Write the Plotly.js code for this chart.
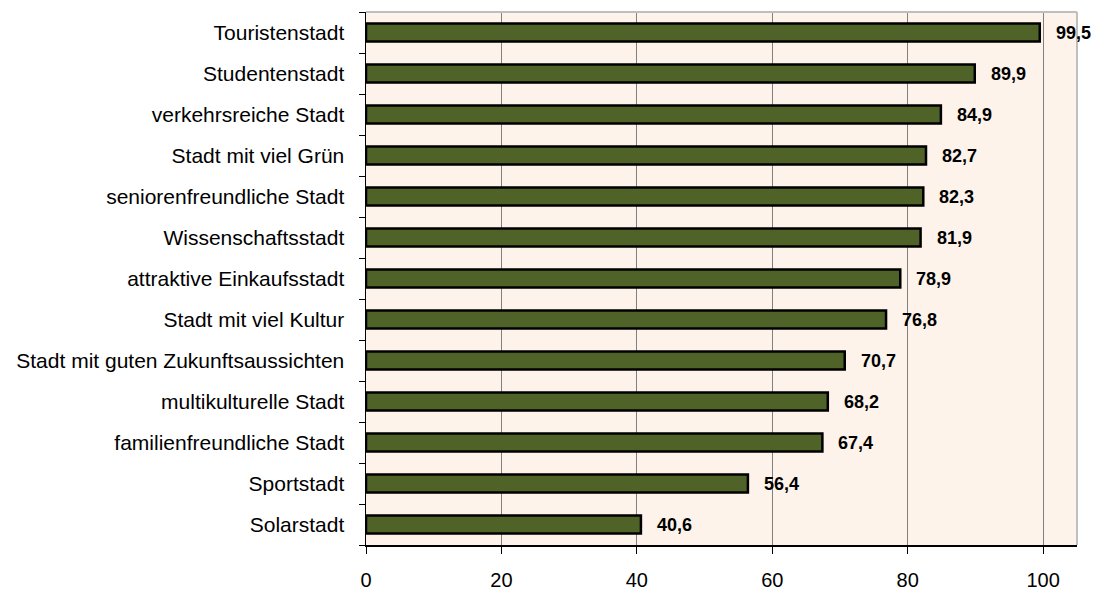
<!DOCTYPE html>
<html>
<head>
<meta charset="utf-8">
<script src="https://cdn.plot.ly/plotly-3.0.1.min.js"></script>
<style>html,body{margin:0;padding:0;background:#fff;}#chart{width:1096px;height:592px;}</style>
</head>
<body>
<div id="chart"></div>
<script>
const categories = [
  "Touristenstadt",
  "Studentenstadt",
  "verkehrsreiche Stadt",
  "Stadt mit viel Grün",
  "seniorenfreundliche Stadt",
  "Wissenschaftsstadt",
  "attraktive Einkaufsstadt",
  "Stadt mit viel Kultur",
  "Stadt mit guten Zukunftsaussichten",
  "multikulturelle Stadt",
  "familienfreundliche Stadt",
  "Sportstadt",
  "Solarstadt"
];
const values = [99.5, 89.9, 84.9, 82.7, 82.3, 81.9, 78.9, 76.8, 70.7, 68.2, 67.4, 56.4, 40.6];
const xTicks = [0, 20, 40, 60, 80, 100];

const fmt = v => v.toFixed(1).replace('.', ',');

const trace = {
  type: 'bar',
  orientation: 'h',
  x: values,
  y: categories,
  marker: { color: '#4F6228', line: { color: '#000000', width: 2.5 } },
  hoverinfo: 'none'
};

const annotations = values.map((v, i) => ({
  x: v, y: categories[i], xref: 'x', yref: 'y',
  text: '<b>' + fmt(v) + '</b>',
  showarrow: false, xanchor: 'left', yanchor: 'middle',
  xshift: 14,
  font: { family: 'Liberation Sans, Arial, sans-serif', size: 18, color: '#000' }
}));

const layout = {
  width: 1096, height: 592,
  margin: { l: 366, r: 19, t: 12, b: 47 },
  paper_bgcolor: '#ffffff',
  plot_bgcolor: '#FDF3EA',
  showlegend: false,
  bargap: 0.56,
  font: { family: 'Liberation Sans, Arial, sans-serif', size: 20, color: '#000' },
  xaxis: {
    range: [0, 105],
    tickvals: xTicks,
    ticktext: xTicks.map(String),
    showgrid: true, gridcolor: '#808080', gridwidth: 1,
    zeroline: false,
    showline: true, linecolor: '#000', linewidth: 1.5,
    ticks: 'outside', ticklen: 7, tickcolor: '#000', tickwidth: 1,
    ticklabelstandoff: 9,
    tickfont: { size: 20 },
    mirror: false,
    fixedrange: true
  },
  yaxis: {
    type: 'category',
    categoryorder: 'array',
    categoryarray: categories.slice().reverse(),
    autorange: false,
    range: [-0.5, categories.length - 0.5],
    showgrid: false,
    zeroline: false,
    showline: true, linecolor: '#000', linewidth: 1.5,
    ticks: 'outside', ticklen: 6, tickcolor: '#000', tickwidth: 1,
    tickson: 'boundaries',
    ticklabelstandoff: 16,
    tickfont: { size: 21 },
    fixedrange: true
  },
  shapes: [
    { type: 'line', xref: 'paper', yref: 'paper', x0: 0, x1: 1, y0: 1, y1: 1, line: { color: '#BFBFBF', width: 2 } },
    { type: 'line', xref: 'paper', yref: 'paper', x0: 1, x1: 1, y0: 0, y1: 1, line: { color: '#BFBFBF', width: 2 } }
  ],
  annotations: annotations
};

Plotly.newPlot('chart', [trace], layout, { displayModeBar: false, staticPlot: true });
</script>
</body>
</html>
